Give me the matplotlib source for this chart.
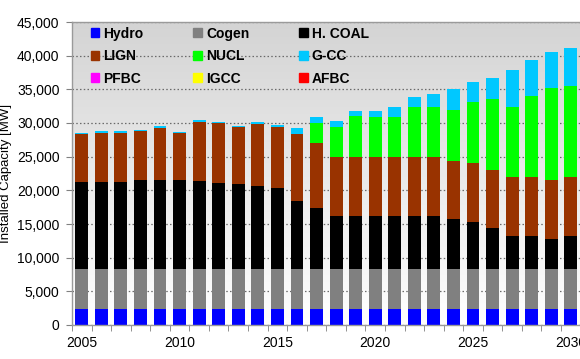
import numpy as np
import matplotlib
matplotlib.use("Agg")
import matplotlib.pyplot as plt
from matplotlib.ticker import FuncFormatter, MultipleLocator
from matplotlib.patches import Patch

plt.rcParams['font.family'] = ['Liberation Sans', 'DejaVu Sans']

years = list(range(2005, 2031))

# installed capacity per technology [MW]
hydro = [2400] * 26
cogen = [5950] * 26
hcoal = [12950, 12950, 12950, 13150, 13150, 13150, 13000, 12800, 12650, 12250, 12050,
         10100, 9000, 7800, 7800, 7800, 7800, 7800, 7800, 7450, 7000, 6000, 4850, 4850, 4450, 4850]
lign = [7050, 7250, 7250, 7250, 7750, 7000, 8850, 8800, 8350, 9250, 9050,
        9950, 9650, 8750, 8750, 8750, 8750, 8750, 8750, 8600, 8650, 8650, 8800, 8800, 8750, 8800]
nucl = [0] * 12 + [3000, 4450, 6100, 6000, 6050, 7550, 7550, 7600, 9100, 10550, 10450, 11950, 13600, 13500]
gcc = [200, 200, 200, 250, 250, 200, 250, 200, 150, 250, 200,
       900, 850, 900, 800, 900, 1400, 1450, 1800, 3000, 3000, 3200, 5400, 5400, 5350, 5600]
pfbc = [0] * 26
igcc = [0] * 26
afbc = [0] * 26

names = ['Hydro', 'Cogen', 'H. COAL', 'LIGN', 'NUCL', 'G-CC', 'PFBC', 'IGCC', 'AFBC']
series = [hydro, cogen, hcoal, lign, nucl, gcc, pfbc, igcc, afbc]
colors = ['#0000ff', '#808080', '#000000', '#993300', '#00ff00', '#00c8ff',
          '#ff00ff', '#ffff00', '#ff0000']

fig = plt.figure(figsize=(5.8, 3.59), dpi=100)
ax = fig.add_axes([72 / 580, 34 / 359, 508.6 / 580, 303 / 359])

# gray -> white background of the plot area
grad = np.linspace(0, 1, 256)[:, None]
bg = matplotlib.colors.LinearSegmentedColormap.from_list('bg', ['#ffffff', '#d4d4d4'])
ax.imshow(grad, cmap=bg, aspect='auto', extent=[0, 1, 0, 1], origin='lower',
          transform=ax.transAxes, zorder=0)

x = np.arange(len(years))
bottom = np.zeros(len(years))
for vals, name, col in zip(series, names, colors):
    ax.bar(x, vals, 0.66, bottom=bottom, color=col, label=name, linewidth=0, zorder=2)
    bottom += np.array(vals)

ax.set_xlim(-0.5, len(years) - 0.5)
ax.set_ylim(0, 45000)

ax.yaxis.set_major_locator(MultipleLocator(5000))
ax.yaxis.set_major_formatter(FuncFormatter(lambda v, p: f'{int(v):,}'))
ax.grid(axis='y', color='#6a6a6a', linestyle=(0, (1.2, 1.8)), linewidth=0.9, zorder=1)
ax.set_axisbelow(True)

ax.set_xticks(x[::5])
ax.set_xticklabels([str(y) for y in years[::5]])
ax.set_xticks(np.arange(-0.5, len(years)), minor=True)
ax.tick_params(axis='x', which='major', length=0, pad=8, labelsize=10)
ax.tick_params(axis='x', which='minor', length=4, direction='out', color='#808080')
ax.tick_params(axis='y', length=4, direction='out', color='#808080', pad=5, labelsize=10)

for s in ax.spines.values():
    s.set_color('#9a9a9a')
    s.set_linewidth(1)

ax.set_ylabel('Installed Capacity [MW]', fontsize=9.5)
ax.yaxis.set_label_coords(-0.118, 0.5)

# legend filled row by row like the original
handles = [Patch(color=c) for c in colors]
order = [0, 3, 6, 1, 4, 7, 2, 5, 8]
ax.legend([handles[i] for i in order], [names[i] for i in order], ncol=3,
          loc='upper left', bbox_to_anchor=(0.037, 0.985), frameon=False,
          prop={'weight': 'bold', 'size': 10}, handlelength=0.6, handleheight=0.6,
          handletextpad=0.3, columnspacing=3.6, labelspacing=0.62, borderpad=0,
          borderaxespad=0)

fig.savefig('out.png', dpi=100)
